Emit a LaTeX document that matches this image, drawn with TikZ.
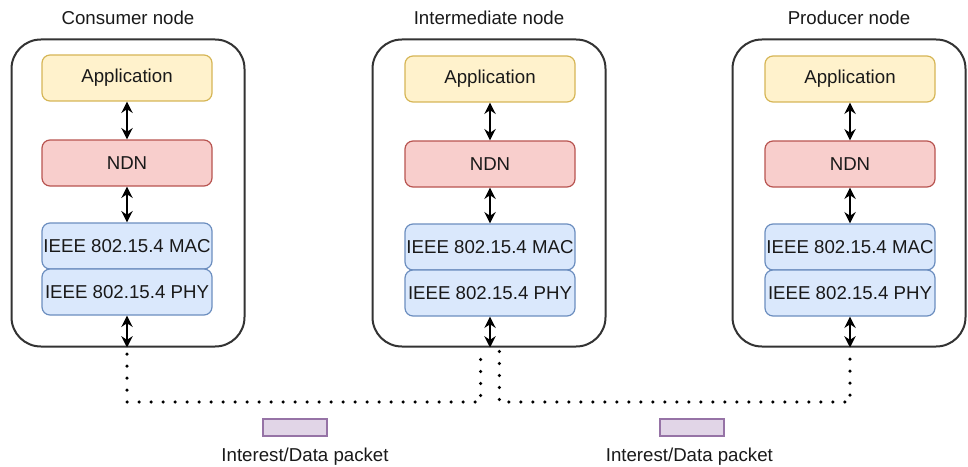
\documentclass[tikz,border=0pt]{standalone}
\usepackage{fontspec}
\setmainfont{Liberation Sans}
\usetikzlibrary{arrows.meta}

\definecolor{appfill}{HTML}{FFF2CC}
\definecolor{appline}{HTML}{D6B656}
\definecolor{ndnfill}{HTML}{F8CECC}
\definecolor{ndnline}{HTML}{B85450}
\definecolor{macfill}{HTML}{DAE8FC}
\definecolor{macline}{HTML}{6C8EBF}
\definecolor{pktfill}{HTML}{E1D5E7}
\definecolor{pktline}{HTML}{9673A6}

\tikzstyle{device} = [rectangle, draw=black!80, line width=1.5pt, rounded corners=22pt,
    minimum width=174.75pt, minimum height=230.25pt]
\tikzstyle{layer} = [rectangle, draw, line width=0.9pt, rounded corners=6pt, inner sep=0pt,
    minimum width=127.5pt, minimum height=34.5pt, text=black!90]
\tikzstyle{app} = [layer, draw=appline, fill=appfill]
\tikzstyle{ndn} = [layer, draw=ndnline, fill=ndnfill]
\tikzstyle{mac} = [layer, draw=macline, fill=macfill]
\tikzstyle{packet} = [rectangle, draw=pktline, fill=pktfill, line width=0.9pt,
    minimum width=48pt, minimum height=12.75pt, inner sep=0pt]
\tikzstyle{title} = [text=black!90]
\tikzstyle{line} = [draw, {Stealth[length=8.5pt,width=8.5pt]}-{Stealth[length=8.5pt,width=8.5pt]},
    line width=1.5pt]
\tikzstyle{link} = [draw, line width=2.7pt, line cap=round, dash pattern=on 0pt off 9pt]

\begin{document}
\begin{tikzpicture}[x=0.75pt, y=-0.75pt, font=\fontsize{14}{16}\selectfont]
    \useasboundingbox (0,0) rectangle (968,467);

    % the three devices
    \node[device](Consumer) at (128,193){};
    \node[device](Inter) at (489,193){};
    \node[device](Producer) at (849,193){};

    \node[title, above of=Consumer, node distance=131.25pt](ConsumerTitle){Consumer node};
    \node[title, above of=Inter, node distance=131.25pt](InterTitle){Intermediate node};
    \node[title, above of=Producer, node distance=131.25pt](ProducerTitle){Producer node};

    % consumer stack
    \node[app](ConsumerApp) at (127,78){Application};
    \node[ndn, below of=ConsumerApp, node distance=63.75pt](ConsumerNDN){NDN};
    \node[mac, below of=ConsumerNDN, node distance=62.25pt](ConsumerMAC){IEEE 802.15.4 MAC};
    \node[mac, below of=ConsumerMAC, node distance=34.5pt](ConsumerPHY){IEEE 802.15.4 PHY};

    % intermediate stack
    \node[app](InterApp) at (490,79){Application};
    \node[ndn, below of=InterApp, node distance=63.75pt](InterNDN){NDN};
    \node[mac, below of=InterNDN, node distance=62.25pt](InterMAC){IEEE 802.15.4 MAC};
    \node[mac, below of=InterMAC, node distance=34.5pt](InterPHY){IEEE 802.15.4 PHY};

    % producer stack
    \node[app](ProducerApp) at (850,79){Application};
    \node[ndn, below of=ProducerApp, node distance=63.75pt](ProducerNDN){NDN};
    \node[mac, below of=ProducerNDN, node distance=62.25pt](ProducerMAC){IEEE 802.15.4 MAC};
    \node[mac, below of=ProducerMAC, node distance=34.5pt](ProducerPHY){IEEE 802.15.4 PHY};

    \coordinate (ConsumerPort) at (ConsumerPHY.south |- Consumer.south);
    \coordinate (InterPort) at (InterPHY.south |- Inter.south);
    \coordinate (ProducerPort) at (ProducerPHY.south |- Producer.south);
    \coordinate (InterLeft) at ([xshift=-7pt]InterPort);
    \coordinate (InterRight) at ([xshift=7pt]InterPort);
    \coordinate (BusLevel) at (0,402);

    \path[line](ConsumerApp) -- (ConsumerNDN);
    \path[line](ConsumerNDN) -- (ConsumerMAC);
    \path[line](ConsumerPHY.south) -- (ConsumerPort);
    \path[line](InterApp) -- (InterNDN);
    \path[line](InterNDN) -- (InterMAC);
    \path[line](InterPHY.south) -- (InterPort);
    \path[line](ProducerApp) -- (ProducerNDN);
    \path[line](ProducerNDN) -- (ProducerMAC);
    \path[line](ProducerPHY.south) -- (ProducerPort);

    % wireless links
    \path[link]([yshift=-5pt]ConsumerPort) -- (ConsumerPort |- BusLevel)
        -- (InterLeft |- BusLevel) -- ([yshift=-5pt]InterLeft);
    \path[link]([yshift=-3pt]InterRight) -- (InterRight |- BusLevel)
        -- (ProducerPort |- BusLevel) -- ([yshift=-5pt]ProducerPort);

    \node[packet](PacketA) at (295,427.5){};
    \node[title, below of=PacketA, node distance=22pt, xshift=7.5pt](PacketLabelA){Interest/Data packet};
    \node[packet](PacketB) at (692,427.5){};
    \node[title, below of=PacketB, node distance=22pt, xshift=-2pt](PacketLabelB){Interest/Data packet};
\end{tikzpicture}
\end{document}
